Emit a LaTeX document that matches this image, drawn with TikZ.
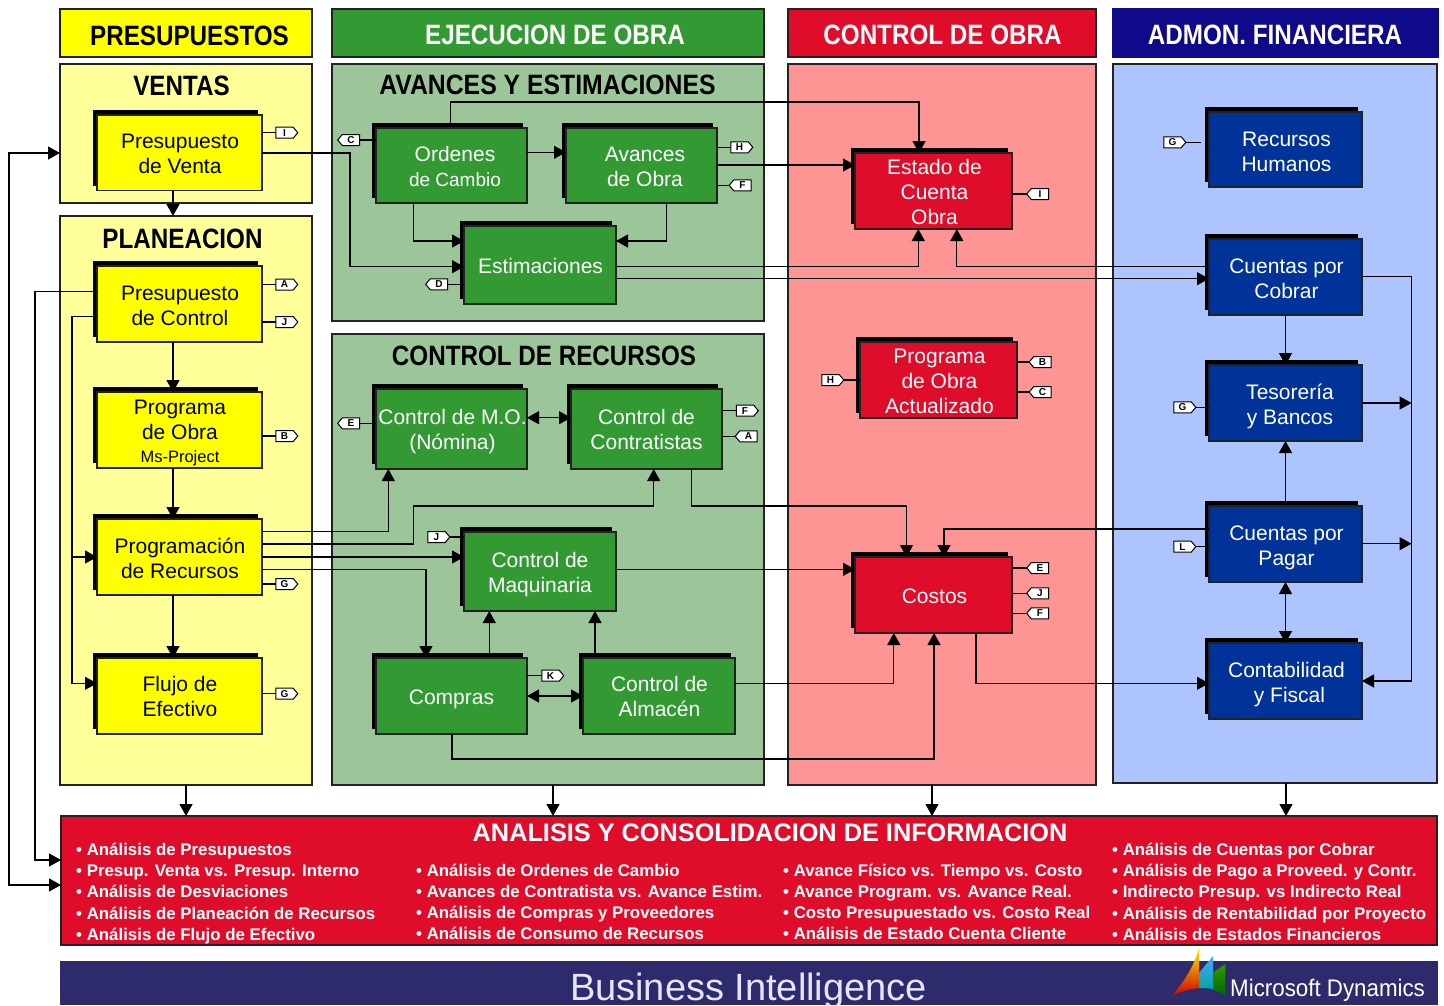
\documentclass[tikz,border=0pt]{standalone}
\usepackage{fontspec}
\setmainfont{Liberation Sans}
\newfontfamily\narrowf[FakeStretch=0.865]{Liberation Sans}
\newfontfamily\narrowg[FakeStretch=0.885]{Liberation Sans}
\newfontfamily\logof[FakeStretch=0.93]{Liberation Sans}
\usetikzlibrary{arrows.meta,shapes.symbols}
\definecolor{cyel}{HTML}{FFFF00}
\definecolor{cyell}{HTML}{FFFF99}
\definecolor{cgrn}{HTML}{339933}
\definecolor{cgrnl}{HTML}{9CC69A}
\definecolor{cred}{HTML}{E00D2A}
\definecolor{cpink}{HTML}{FF9494}
\definecolor{cblu}{HTML}{003399}
\definecolor{cblul}{HTML}{AEC4FF}
\definecolor{cnav}{HTML}{0F0A8A}
\definecolor{cbar}{HTML}{2D2B6B}
\definecolor{cedge}{HTML}{222222}
\tikzset{
  pan/.style={draw=cedge,line width=1.2pt,inner sep=0pt,outer sep=0pt},
  titlef/.style={font=\narrowf\bfseries\fontsize{28}{30}\selectfont,inner sep=0pt,outer sep=0pt},
  titleg/.style={font=\narrowg\bfseries\fontsize{28}{30}\selectfont,inner sep=0pt,outer sep=0pt},
  boxn/.style={draw=cedge,line width=1.2pt,inner sep=0pt,outer sep=0pt},
  boxt/.style={inner sep=0pt,outer sep=0pt,align=center,font=\fontsize{21}{25}\selectfont},
  yb/.style={boxn,fill=cyel},
  gb/.style={boxn,fill=cgrn},
  rb/.style={boxn,fill=cred},
  bb/.style={boxn,fill=cblu},
  tagbase/.style={shape=signal,draw=black,fill=white,line width=1pt,inner sep=0pt,outer sep=0pt,minimum width=22pt,minimum height=11pt,signal pointer angle=100,font=\bfseries\fontsize{10}{10}\selectfont},
  tagr/.style={tagbase,signal to=east,xshift=-1.5pt},
  tagl/.style={tagbase,signal to=west,xshift=1pt},
  lk/.style={draw=black,line width=1.3pt},
  ar/.style={lk,-{Triangle[length=12pt,width=13pt]}},
  ba/.style={lk,{Triangle[length=12pt,width=13pt]}-{Triangle[length=12pt,width=13pt]}},
  bul/.style={font=\bfseries\fontsize{16.85}{21.25}\selectfont,text=white,align=left,anchor=west,inner sep=0pt},
}
% \bx[dx,dy]{name}{x1}{y1}{x2}{y2}{style}{textcolour}{text}
\newcommand{\bx}[9][0,0]{%
  \fill[black] ({#3-4},{#4-5}) rectangle ({#5-4},{#6-5});
  \node[#7,minimum width={#5-#3},minimum height={#6-#4}] (#2) at ({(#3+#5)/2},{(#4+#6)/2}) {};
  \node[boxt,text=#8,shift={(#1)}] (#2t) at (#2.center) {#9};
}
\newcommand{\pn}[7]{%
  \node[pan,#6,minimum width={#4-#2},minimum height={#5-#3}] (#1) at ({(#2+#4)/2},{(#3+#5)/2}) {#7};
}
\begin{document}
\begin{tikzpicture}[x=1pt,y=-1pt]
\useasboundingbox (0,0) rectangle (1444,1005);
% headers
\pn{hp}{60}{9}{312}{57}{fill=cyel}{}
\pn{he}{332}{9}{764}{57}{fill=cgrn}{}
\pn{hc}{788}{9}{1096}{57}{fill=cred}{}
\pn{ha}{1113}{9}{1438}{57}{fill=cnav,draw=cnav}{}
\node[titlef,text=black] (thp) at (189.5,36) {PRESUPUESTOS};
\node[titlef,text=white] (the) at (555,35) {EJECUCION DE OBRA};
\node[titlef,text=white] (thc) at (942.5,35) {CONTROL DE OBRA};
\node[titlef,text=white] (tha) at (1275,35) {ADMON. FINANCIERA};
% panels
\pn{vent}{60}{64}{312}{203}{fill=cyell}{}
\pn{plan}{60}{216}{312}{785}{fill=cyell}{}
\pn{ave}{332}{64}{764}{321}{fill=cgrnl}{}
\pn{rec}{332}{334}{764}{785}{fill=cgrnl}{}
\pn{obr}{788}{64}{1096}{785}{fill=cpink}{}
\pn{fin}{1113}{64}{1437}{783}{fill=cblul}{}
\node[titlef] (tv) at (181.5,86) {VENTAS};
\node[titlef] (tp) at (182.5,239) {PLANEACION};
\node[titleg] (ta) at (547.5,85) {AVANCES Y ESTIMACIONES};
\node[titlef] (tr) at (544,356) {CONTROL DE RECURSOS};
% analysis panel
\pn{an}{61}{816}{1437}{945}{fill=cred,line width=1.5pt}{}
\node[font=\bfseries\fontsize{25.3}{28}\selectfont,text=white,inner sep=0pt] (ant) at (770,833) {ANALISIS Y CONSOLIDACION DE INFORMACION};
\node[bul] (l1) at (76,893.5) {• Análisis de Presupuestos\\• Presup. Venta vs. Presup. Interno\\• Análisis de Desviaciones\\• Análisis de Planeación de Recursos\\• Análisis de Flujo de Efectivo};
\node[bul] (l2) at (416,902) {• Análisis de Ordenes de Cambio\\• Avances de Contratista vs. Avance Estim.\\• Análisis de Compras y Proveedores\\• Análisis de Consumo de Recursos};
\node[bul] (l3) at (783,902) {• Avance Físico vs. Tiempo vs. Costo\\• Avance Program. vs. Avance Real.\\• Costo Presupuestado vs. Costo Real\\• Análisis de Estado Cuenta Cliente};
\node[bul] (l4) at (1112,891.7) {• Análisis de Cuentas por Cobrar\\• Análisis de Pago a Proveed. y Contr.\\• Indirecto Presup. vs Indirecto Real\\• Análisis de Rentabilidad por Proyecto\\• Análisis de Estados Financieros};
% bottom bar
\fill[cbar] (60,961) rectangle (1438,1005);
\node[font=\fontsize{38}{40}\selectfont,text=white!90!blue,anchor=base,inner sep=0pt] (bi) at (748.5,1000) {Business Intelligence};
% logo
\shade[top color=yellow!90!orange,bottom color=red!80!black] (1199,947) -- (1199,988) .. controls (1188,989) and (1180,992) .. (1172,996) .. controls (1185,980) and (1195,965) .. (1199,947) -- cycle;
\shade[top color=blue!50!cyan!70!white,bottom color=teal!70!cyan] (1213,956) -- (1213,989) .. controls (1208,988) and (1203,988) .. (1199,988) -- (1199,973) -- cycle;
\shade[top color=green!50!black!80!yellow,bottom color=green!40!black] (1225.4,964) -- (1225.4,996) .. controls (1222,993) and (1218,991) .. (1213.5,990) -- (1213.5,972) -- cycle;
\node[font=\logof\fontsize{24}{26}\selectfont,text=white,anchor=base west,inner sep=0pt] (ms) at (1230,996) {Microsoft Dynamics};
% boxes
\bx[0.5,1]{pv}{97}{115}{262}{190.5}{yb}{black}{Presupuesto\\de Venta}
\bx[0.5,2]{pc}{97}{266}{262}{342}{yb}{black}{Presupuesto\\de Control}
\bx[0.5,3]{pob}{97}{392}{262}{468}{yb}{black}{Programa\\de Obra\\[-2pt]{\fontsize{16.5}{18}\selectfont Ms-Project}}
\bx[0.5,1]{pr}{97}{519}{262}{595}{yb}{black}{Programación\\de Recursos}
\bx[0.5,0]{fe}{97}{658}{262}{734}{yb}{black}{Flujo de\\Efectivo}
\bx[3.5,1]{oc}{376}{128}{527}{203}{gb}{white}{Ordenes\\{\fontsize{19}{22}\selectfont de Cambio}}
\bx[3.5,1]{ao}{566}{128}{717}{203}{gb}{white}{Avances\\de Obra}
\bx[0.5,1]{es}{464}{226}{616}{304}{gb}{white}{Estimaciones}
\bx[1,3]{cmo}{376}{389}{527}{469}{gb}{white}{Control de M.O.\\(Nómina)}
\bx[0,0]{cco}{571}{389}{722}{469}{gb}{white}{Control de\\Contratistas}
\bx[0,3.5]{cm}{464}{532}{616}{611}{gb}{white}{Control de\\Maquinaria}
\bx[0,3]{co}{376}{658}{527}{734}{gb}{white}{Compras}
\bx[0.5,0]{ca}{583}{658}{735}{734}{gb}{white}{Control de\\Almacén}
\bx[1,1]{eo}{855}{153}{1012}{229}{rb}{white}{Estado de\\Cuenta\\Obra}
\bx[1,1.5]{prg}{860}{342}{1017}{418}{rb}{white}{Programa\\de Obra\\Actualizado}
\bx[1,1]{cs}{855}{557}{1012}{633}{rb}{white}{Costos}
\bx[1,2]{rh}{1209}{112}{1362}{187}{bb}{white}{Recursos\\Humanos}
\bx[1,1.5]{cc}{1209}{239}{1362}{315}{bb}{white}{Cuentas por\\Cobrar}
\bx[4.5,3]{tb}{1209}{365}{1362}{441}{bb}{white}{Tesorería\\y Bancos}
\bx[1,4]{cp}{1209}{506}{1362}{582}{bb}{white}{Cuentas por\\Pagar}
\bx[1,4]{cf}{1209}{643}{1362}{719}{bb}{white}{Contabilidad\\\hspace*{6pt}y Fiscal}
% tags
\node[tagr] (tpvi) at (286,132.7) {I};
\node[tagr] (tpca) at (286,284.5) {A};
\node[tagr] (tpcj) at (286,322) {J};
\node[tagr] (tpob) at (286,436) {B};
\node[tagr] (tprg) at (286,584) {G};
\node[tagr] (tfeg) at (286,693.7) {G};
\node[tagl] (tocc) at (350,140) {C};
\node[tagl] (tesd) at (438,284.3) {D};
\node[tagr] (taoh) at (741,147.3) {H};
\node[tagl] (taof) at (741.5,185.3) {F};
\node[tagl] (tcme) at (350,423.3) {E};
\node[tagr] (tccf) at (746.5,410.7) {F};
\node[tagl] (tcca) at (747.5,436.3) {A};
\node[tagr] (tcmj) at (438,537) {J};
\node[tagr] (tcok) at (552,675.7) {K};
\node[tagl] (teoi) at (1039,194) {I};
\node[tagl] (tprb) at (1041.5,362) {B};
\node[tagl] (tprc) at (1041.5,392) {C};
\node[tagr] (tprh) at (832,380) {H};
\node[tagr] (trhg) at (1174,142.3) {G};
\node[tagr] (ttbg) at (1184,407.3) {G};
\node[tagr] (tcpl) at (1184,546.7) {L};
\node[tagl] (tcse) at (1039,568) {E};
\node[tagl] (tcsj) at (1039,593.3) {J};
\node[tagl] (tcsf) at (1039,613.3) {F};
\coordinate (rhfree) at (1201,142.3);
% tag stubs
\foreach \b/\t in {pv/tpvi,pc/tpca,pc/tpcj,pob/tpob,pr/tprg,fe/tfeg,ao/taoh,co/tcok,ao/taof,cco/tcca,cco/tccf,eo/teoi,prg/tprb,prg/tprc,cs/tcse,cs/tcsj,cs/tcsf}
  \draw[lk] (\b.east |- \t.west) -- (\t.west);
\foreach \b/\t in {oc/tocc,es/tesd,cmo/tcme,cm/tcmj,prg/tprh,tb/ttbg,cp/tcpl}
  \draw[lk] (\t.east) -- (\b.west |- \t.east);
\draw[lk] (trhg.east) -- (rhfree);
% connectors, Presupuestos
\draw[ar] (pv.south -| 173,0) -- (plan.north -| 173,0);
\draw[ba] (vent.west |- 0,153) -- (9,153) -- (9,885) -- (an.west |- 0,885);
\draw[ar] (pc.west |- 0,291.7) -- (35,291.7) -- (35,860) -- (an.west |- 0,860);
\draw[ar] (pc.west |- 0,316.7) -- (72,316.7) -- (72,557) -- (pr.west |- 0,557);
\draw[ar] (72,557) -- (72,683.3) -- (fe.west |- 0,683.3);
\draw[ar] (pc.south -| 173,0) -- (pob.north -| 173,0);
\draw[ar] (pob.south -| 173,0) -- (pr.north -| 173,0);
\draw[ar] (pr.south -| 173,0) -- (fe.north -| 173,0);
\draw[ar] (pr.east |- 0,531.7) -- (388.3,531.7) -- (cmo.south -| 388.3,0);
\draw[ar] (pr.east |- 0,544) -- (413.3,544) -- (413.3,506) -- (653.7,506) -- (cco.south -| 653.7,0);
\draw[ar] (pr.east |- 0,557) -- (cm.west |- 0,557);
\draw[ar] (pr.east |- 0,569.3) -- (426,569.3) -- (co.north -| 426,0);
\draw[ar] (pv.east |- 0,153) -- (350,153) -- (350,266.7) -- (es.west |- 0,266.7);
% Avances
\draw[ar] (oc.south -| 413.3,0) -- (413.3,241) -- (es.west |- 0,241);
\draw[ar] (ao.south -| 666.7,0) -- (666.7,241) -- (es.east |- 0,241);
\draw[ar] (oc.east |- 0,152.3) -- (ao.west |- 0,152.3);
\draw[ar] (450.7,123) -- (450.7,102) -- (919,102) -- (eo.north -| 919,0);
\draw[ar] (ao.east |- 0,165) -- (eo.west |- 0,165);
\draw[ar] (es.east |- 0,266.3) -- (918.3,266.3) -- (eo.south -| 918.3,0);
\draw[ar] (es.east |- 0,278.7) -- (cc.west |- 0,278.7);
\draw[ar] (cc.west |- 0,266.3) -- (956.8,266.3) -- (eo.south -| 956.8,0);
% Recursos
\draw[ba] (cmo.east |- 0,417.7) -- (cco.west |- 0,417.7);
\draw[ar] (cco.south -| 691.7,0) -- (691.7,506) -- (906.5,506) -- (cs.north -| 906.5,0);
\draw[ar] (cm.east |- 0,569.3) -- (cs.west |- 0,569.3);
\draw[ar] (489.3,654) -- (cm.south -| 489.3,0);
\draw[ar] (595,654) -- (cm.south -| 595,0);
\draw[ba] (co.east |- 0,696) -- (ca.west |- 0,696);
\draw[ar] (ca.east |- 0,683.3) -- (893.8,683.3) -- (cs.south -| 893.8,0);
\draw[ar] (co.south -| 452,0) -- (452,759) -- (934,759) -- (cs.south -| 934,0);
% Finanzas
\draw[ar] (cs.south -| 976,0) -- (976,683.3) -- (cf.west |- 0,683.3);
\draw[ar] (cp.west |- 0,529) -- (944,529) -- (cs.north -| 944,0);
\draw[ar] (cc.south -| 1285.5,0) -- (tb.north -| 1285.5,0);
\draw[ar] (1285.5,502) -- (tb.south -| 1285.5,0);
\draw[ba] (cp.south -| 1285.5,0) -- (cf.north -| 1285.5,0);
\draw[ar] (cc.east |- 0,276.7) -- (1411.6,276.7) -- (1411.6,681) -- (cf.east |- 0,681);
\draw[ar] (tb.east |- 0,403) -- (1411.6,403);
\draw[ar] (cp.east |- 0,543.7) -- (1411.6,543.7);
% to analysis
\draw[ar] (plan.south -| 186,0) -- (an.north -| 186,0);
\draw[ar] (rec.south -| 553,0) -- (an.north -| 553,0);
\draw[ar] (obr.south -| 932,0) -- (an.north -| 932,0);
\draw[ar] (fin.south -| 1286,0) -- (an.north -| 1286,0);
\end{tikzpicture}
\end{document}
